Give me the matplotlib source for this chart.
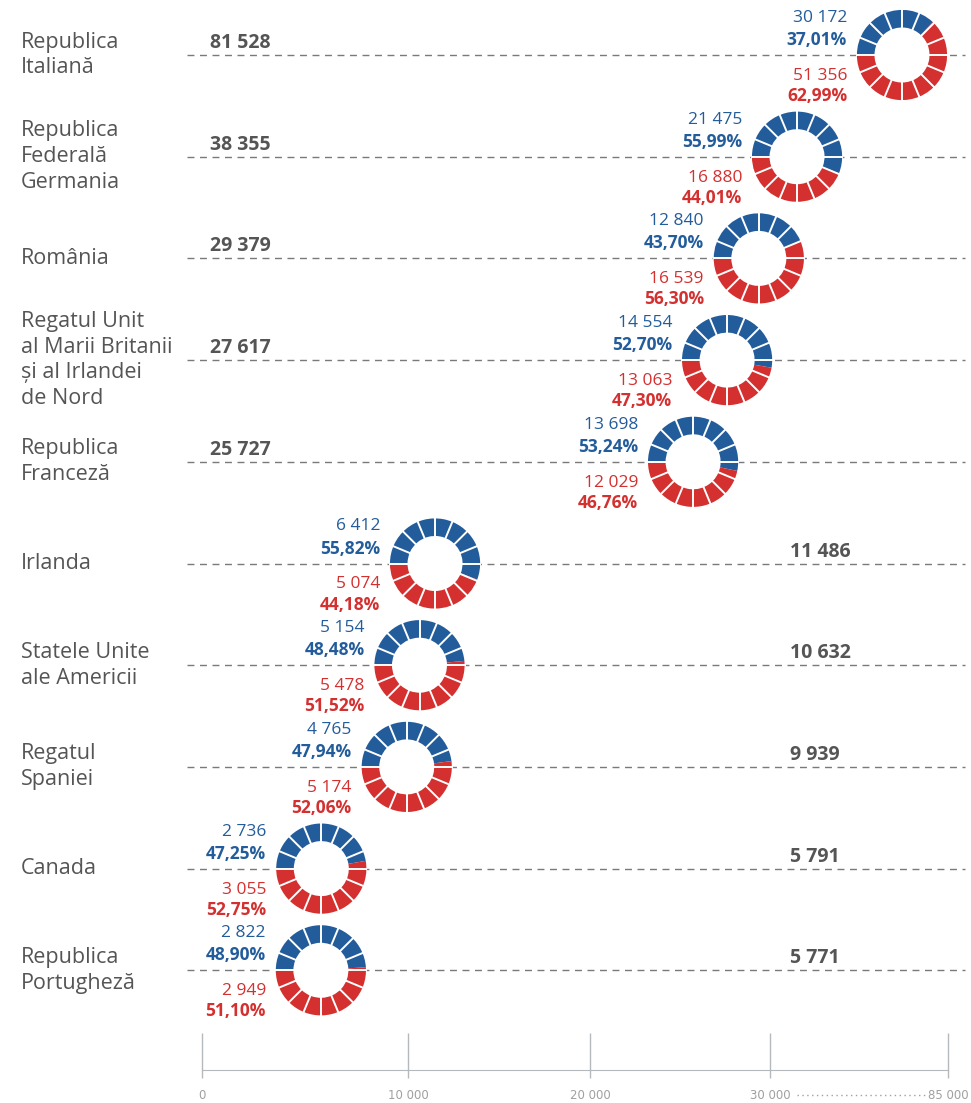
import matplotlib
matplotlib.use("Agg")
import matplotlib.pyplot as plt
import numpy as np

plt.rcParams['font.family'] = ['Open Sans', 'DejaVu Sans']

# data
countries = ["Republica\nItaliană", "Republica\nFederală\nGermania", "România",
             "Regatul Unit\nal Marii Britanii\nși al Irlandei\nde Nord",
             "Republica\nFranceză", "Irlanda", "Statele Unite\nale Americii",
             "Regatul\nSpaniei", "Canada", "Republica\nPortugheză"]
blue_vals = [30172, 21475, 12840, 14554, 13698, 6412, 5154, 4765, 2736, 2822]
red_vals = [51356, 16880, 16539, 13063, 12029, 5074, 5478, 5174, 3055, 2949]
tick_vals = [0, 10000, 20000, 30000, 85000]
tick_labels = ["0", "10 000", "20 000", "30 000", "85 000"]

BLUE = "#235c9b"
RED = "#d3302f"
GRAY = "#555555"
AXIS = "#b3b9bc"

# layout (pixels)
W, H = 971, 1103
ax_left, ax_right, ax_top, ax_bottom = 202, 948, 0, 1070
tick_px = [0, 206, 388, 568, 746]   # broken axis: 30 000 .... 85 000
first_row, row_step = 55, 101.7
r_px = 46
n_seg = 16


def fmt(v):
    return f"{v:,}".replace(",", " ")


def pct(v):
    return f"{v:.2f}%".replace(".", ",")


fig = plt.figure(figsize=(W / 100, H / 100), dpi=100)
ax = fig.add_axes([ax_left / W, 1 - ax_bottom / H,
                   (ax_right - ax_left) / W, (ax_bottom - ax_top) / H])

fwd = lambda x: np.interp(x, tick_vals, tick_px)
inv = lambda p: np.interp(p, tick_px, tick_vals)
ax.set_xscale('function', functions=(fwd, inv))
ax.set_xlim(0, 85000)
ax.set_ylim((ax_bottom - first_row) / row_step, -(first_row - ax_top) / row_step)

for s in ["top", "left", "right"]:
    ax.spines[s].set_visible(False)
ax.spines["bottom"].set_color(AXIS)
ax.set_yticks([])
ax.set_xticks(tick_vals)
ax.set_xticklabels(tick_labels)
ax.set_xticks(tick_vals, minor=True)
ax.xaxis.remove_overlapping_locs = False
ax.tick_params(axis='x', which='major', direction='in', length=27, width=1, color=AXIS,
               labelsize=8.5, labelcolor="#a0a0a0", pad=14)
ax.tick_params(axis='x', which='minor', direction='out', length=6, width=1, color=AXIS)
for lab in ax.get_xticklabels():
    lab.set_family(['Liberation Sans Narrow', 'DejaVu Sans'])

# dots between 30 000 and 85 000
dot_y = -25 / (ax_bottom - ax_top)
ax.plot([(797 - ax_left) / (ax_right - ax_left), (928 - ax_left) / (ax_right - ax_left)],
        [dot_y, dot_y], transform=ax.transAxes, ls=(0, (1, 2.5)), color="#a0a0a0",
        lw=1, clip_on=False)

ytrans = ax.get_yaxis_transform()
totals = [b + r for b, r in zip(blue_vals, red_vals)]

for i, (name, b, r, t) in enumerate(zip(countries, blue_vals, red_vals, totals)):
    # dashed row line
    ax.plot([-0.02, 1.023], [i, i], transform=ytrans, color="#7a7a7a",
            ls=(0, (5, 4)), lw=1, clip_on=False, zorder=1)

    # total label
    on_right = fwd(t) > tick_px[-1] / 2
    tx = 0.011 if on_right else 0.788
    ax.annotate(fmt(t), xy=(tx, i), xycoords=ytrans, xytext=(0, 5),
                textcoords="offset points", ha="left", va="baseline",
                fontsize=14, fontweight="bold", color=GRAY)

    # donut position
    dx, dy = ax.transData.transform((t, i))
    dx = min(dx, ax_right - r_px)

    fig.text(21 / W, dy / H, name, ha="left", va="center", fontsize=15.5,
             color=GRAY, linespacing=1.3)

    dax = fig.add_axes([(dx - r_px) / W, (dy - r_px) / H, 2 * r_px / W, 2 * r_px / H])
    dax.add_patch(plt.Circle((0, 0), 1.0, color="white", zorder=0))
    dax.pie([b, r], colors=[BLUE, RED], startangle=180, counterclock=False,
            radius=1, wedgeprops=dict(width=0.39, linewidth=0))
    for a in np.deg2rad(np.arange(0, 360, 360 / n_seg)):
        dax.plot([0.55 * np.cos(a), 1.05 * np.cos(a)], [0.55 * np.sin(a), 1.05 * np.sin(a)],
                 color="white", lw=1.4, solid_capstyle="butt")
    dax.set_xlim(-1.02, 1.02)
    dax.set_ylim(-1.02, 1.02)
    dax.set_aspect("equal")
    dax.axis("off")

    lx = (dx - r_px - 9) / W
    fig.text(lx, (dy + 37) / H, fmt(b), ha="right", va="center", fontsize=12.5, color=BLUE)
    fig.text(lx, (dy + 15) / H, pct(100 * b / t), ha="right", va="center",
             fontsize=12.5, fontweight="bold", color=BLUE)
    fig.text(lx, (dy - 21) / H, fmt(r), ha="right", va="center", fontsize=12.5, color=RED)
    fig.text(lx, (dy - 41) / H, pct(100 * r / t), ha="right", va="center",
             fontsize=12.5, fontweight="bold", color=RED)

fig.savefig("out.png", dpi=100)
